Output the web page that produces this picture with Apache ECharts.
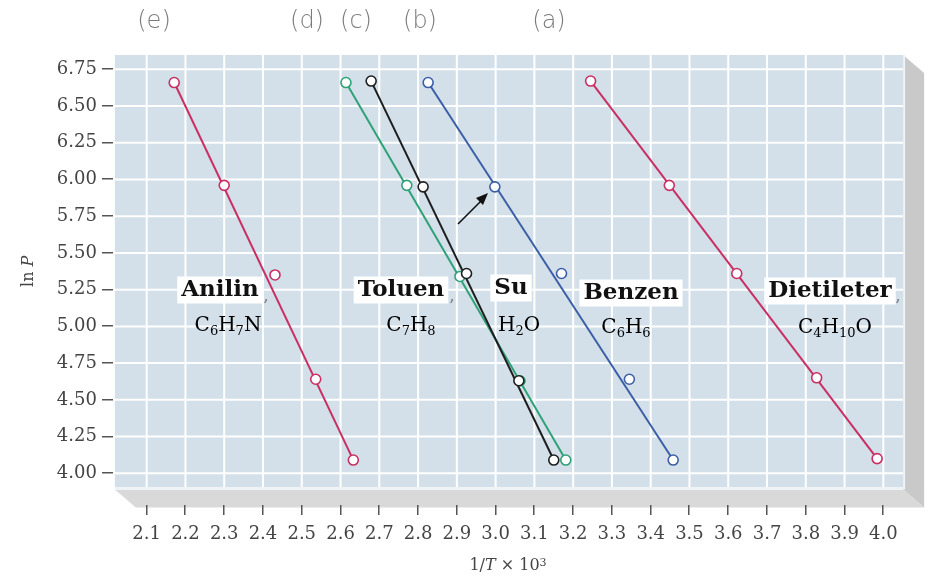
<!DOCTYPE html>
<html>
<head>
<meta charset="utf-8">
<script src="https://cdn.jsdelivr.net/npm/echarts@6/dist/echarts.min.js"></script>
<style>
  html, body { margin: 0; padding: 0; background: #ffffff; }
  #chart { width: 930px; height: 583px; }
</style>
</head>
<body>
<div id="chart"></div>
<script>
// Tick values of both axes
const xTicks = [2.1, 2.2, 2.3, 2.4, 2.5, 2.6, 2.7, 2.8, 2.9, 3.0, 3.1, 3.2, 3.3, 3.4, 3.5, 3.6, 3.7, 3.8, 3.9, 4.0];
const yTicks = [4.00, 4.25, 4.50, 4.75, 5.00, 5.25, 5.50, 5.75, 6.00, 6.25, 6.50, 6.75];

// ln P against 1/T x 10^3 for each liquid
const anilinX = [2.171, 2.300, 2.431, 2.536, 2.633];
const anilinY = [6.66, 5.96, 5.35, 4.64, 4.09];
const toluenX = [2.614, 2.771, 2.908, 3.063, 3.181];
const toluenY = [6.66, 5.96, 5.34, 4.63, 4.09];
const suX = [2.679, 2.813, 2.925, 3.060, 3.150];
const suY = [6.67, 5.95, 5.36, 4.63, 4.09];
const benzenX = [2.826, 2.998, 3.170, 3.345, 3.458];
const benzenY = [6.66, 5.95, 5.36, 4.64, 4.09];
const dietileterX = [3.245, 3.448, 3.622, 3.828, 3.984];
const dietileterY = [6.67, 5.96, 5.36, 4.65, 4.10];

const MAGENTA = '#c82f62';
const BLUE = '#3b5ea6';
const GREEN = '#2ea276';
const BLACK = '#1e1e1e';

// A straight line from the first to the last point, plus hollow circle markers
function liquidSeries(name, xs, ys, color) {
  const pts = xs.map((x, i) => [x, ys[i]]);
  return [
    {
      name: name + '-line', type: 'line', data: [pts[0], pts[pts.length - 1]],
      symbol: 'none', silent: true, z: 3,
      lineStyle: { color: color, width: 2 }
    },
    {
      name: name, type: 'scatter', data: pts, symbol: 'circle', symbolSize: 10, z: 4,
      silent: true,
      itemStyle: { color: '#ffffff', borderColor: color, borderWidth: 1.6, opacity: 1 }
    }
  ];
}

const series = [].concat(
  liquidSeries('Anilin', anilinX, anilinY, MAGENTA),
  liquidSeries('Dietileter', dietileterX, dietileterY, MAGENTA),
  liquidSeries('Benzen', benzenX, benzenY, BLUE),
  liquidSeries('Toluen', toluenX, toluenY, GREEN),
  liquidSeries('Su', suX, suY, BLACK)
);

const serif = 'DejaVu Serif';
const chart = echarts.init(document.getElementById('chart'), null, { renderer: 'canvas' });

chart.setOption({
  animation: false,
  backgroundColor: '#ffffff',
  grid: { left: 107.9, right: 7.9, top: 32.6, bottom: 73, containLabel: false },
  xAxis: {
    type: 'value', min: 2.0, max: 4.1, interval: 0.1, offset: -1, z: 5,
    axisLine: { show: false },
    axisTick: { show: false },
    axisLabel: {
      customValues: xTicks, margin: 16, formatter: v => v.toFixed(1),
      fontFamily: serif, fontSize: 18, color: '#444'
    },
    splitLine: { show: false },
    name: '{a|1/}{i|T}{a| × 10}{s|3}',
    nameLocation: 'middle', nameGap: 49,
    nameTextStyle: {
      padding: [0, 14, 0, 0],
      rich: {
        a: { fontFamily: serif, fontSize: 16, color: '#444' },
        i: { fontFamily: serif, fontSize: 16, fontStyle: 'italic', color: '#444' },
        s: { fontFamily: serif, fontSize: 11, color: '#444', verticalAlign: 'top', lineHeight: 12 }
      }
    }
  },
  yAxis: {
    type: 'value', min: 3.75, max: 7.0, interval: 0.25, offset: -5,
    axisLine: { show: false },
    axisTick: { show: false },
    axisLabel: {
      customValues: yTicks, margin: 16, formatter: v => v.toFixed(2),
      fontFamily: serif, fontSize: 18, color: '#444'
    },
    splitLine: { show: false },
    name: '{a|ln }{i|P}',
    nameLocation: 'middle', nameGap: 76,
    nameTextStyle: {
      rich: {
        a: { fontFamily: serif, fontSize: 16, color: '#444' },
        i: { fontFamily: serif, fontSize: 16, fontStyle: 'italic', color: '#444' }
      }
    }
  },
  series: series
});

// Shaded box behind the plot: front panel with a right and bottom face
const toPx = (x, y) => chart.convertToPixel({ gridIndex: 0 }, [x, y]);
const panelMin = toPx(2.018, 3.89);
const panelMax = toPx(4.051, 6.847);
const px0 = panelMin[0], py1 = panelMin[1], px1 = panelMax[0], py0 = panelMax[1];
const depthX = 21, depthY = 18;

// White grid lines inside the front panel, and tick marks outside it
const gridLines = [];
const tickMarks = [];
xTicks.forEach((v, i) => {
  const p = toPx(v, 5);
  gridLines.push({
    type: 'line', z: -5, silent: true,
    shape: { x1: p[0], y1: py0, x2: p[0], y2: py1 },
    style: { stroke: '#ffffff', lineWidth: 2 }
  });
  tickMarks.push({
    type: 'rect', id: 'xt' + i, z: 30, silent: true,
    shape: { x: Math.round(p[0]) - 1, y: Math.round(py1) + 16, width: 1.5, height: 10 },
    style: { fill: '#555555' }
  });
});
yTicks.forEach((v, i) => {
  const p = toPx(3, v);
  gridLines.push({
    type: 'line', z: -5, silent: true,
    shape: { x1: px0, y1: p[1], x2: px1, y2: p[1] },
    style: { stroke: '#ffffff', lineWidth: 2 }
  });
  tickMarks.push({
    type: 'rect', id: 'yt' + i, z: 30, silent: true,
    shape: { x: Math.round(px0) - 13, y: Math.round(p[1]) - 1, width: 11, height: 1.5 },
    style: { fill: '#555555' }
  });
});

function label(text, x, y) {
  return {
    type: 'text', x: x, y: y, z: 20, silent: true,
    style: {
      text: text, align: 'center', verticalAlign: 'middle',
      font: 'bold 23px "DejaVu Serif"', fill: '#111111',
      backgroundColor: '#ffffff', padding: [3, 4, 1, 4]
    }
  };
}
function formula(text, x, y) {
  return {
    type: 'text', x: x, y: y, z: 20, silent: true,
    style: {
      text: text, align: 'center', verticalAlign: 'middle',
      rich: {
        m: { fontFamily: serif, fontSize: 20, color: '#5a5a5a', lineHeight: 24, verticalAlign: 'middle' },
        s: { fontFamily: serif, fontSize: 13, color: '#5a5a5a', lineHeight: 12, verticalAlign: 'bottom' }
      }
    }
  };
}
function comma(x, y) {
  return {
    type: 'text', x: x, y: y, z: 20, silent: true,
    style: { text: ',', align: 'center', verticalAlign: 'middle', font: '16px "DejaVu Serif"', fill: '#777' }
  };
}
function tag(text, x) {
  return {
    type: 'text', x: x, y: 22, z: 20, silent: true,
    style: { text: text, align: 'center', verticalAlign: 'middle', font: '300 24px "DejaVu Sans"', fill: '#7a7a7a' }
  };
}

chart.setOption({
  graphic: [
    {
      type: 'rect', z: -10, silent: true,
      shape: { x: px0, y: py0, width: px1 - px0, height: py1 - py0 },
      style: { fill: '#d3e0ea' }
    },
    {
      type: 'polygon', z: 1, silent: true,
      shape: { points: [[px1, py0], [px1 + depthX, py0 + depthY], [px1 + depthX, py1 + depthY], [px1, py1]] },
      style: { fill: '#c9c9c9' }
    },
    {
      type: 'polygon', z: 1, silent: true,
      shape: { points: [[px0, py1], [px1, py1], [px1 + depthX, py1 + depthY], [px0 + depthX, py1 + depthY]] },
      style: { fill: '#d9d9d9' }
    },
    {
      type: 'line', z: 1, silent: true,
      shape: { x1: px0, y1: py1 - 1, x2: px1, y2: py1 - 1 },
      style: { stroke: '#eef3f6', lineWidth: 3 }
    },
    {
      type: 'line', z: 1, silent: true,
      shape: { x1: px1 + 1, y1: py0, x2: px1 + 1, y2: py1 },
      style: { stroke: '#eef3f6', lineWidth: 2 }
    }
  ].concat(gridLines, tickMarks, [
    tag('(e)', 154), tag('(d)', 307), tag('(c)', 356), tag('(b)', 420), tag('(a)', 549),

    label('Anilin', 220, 290), comma(266, 297),
    formula('{m|C}{s|6}{m|H}{s|7}{m|N}', 228, 326),
    label('Toluen', 401, 290), comma(452, 297),
    formula('{m|C}{s|7}{m|H}{s|8}', 411, 326),
    label('Su', 511, 288),
    formula('{m|H}{s|2}{m|O}', 519, 326),
    label('Benzen', 631, 293),
    formula('{m|C}{s|6}{m|H}{s|6}', 626, 328),
    label('Dietileter', 830, 291), comma(898, 297),
    formula('{m|C}{s|4}{m|H}{s|10}{m|O}', 835, 328),

    {
      type: 'line', z: 20, silent: true,
      shape: { x1: 458, y1: 224, x2: 481, y2: 201 },
      style: { stroke: '#111111', lineWidth: 1.6 }
    },
    {
      type: 'polygon', z: 20, silent: true,
      shape: { points: [[488, 193], [483, 205], [476, 198]] },
      style: { fill: '#111111' }
    }
  ])
});
</script>
</body>
</html>
